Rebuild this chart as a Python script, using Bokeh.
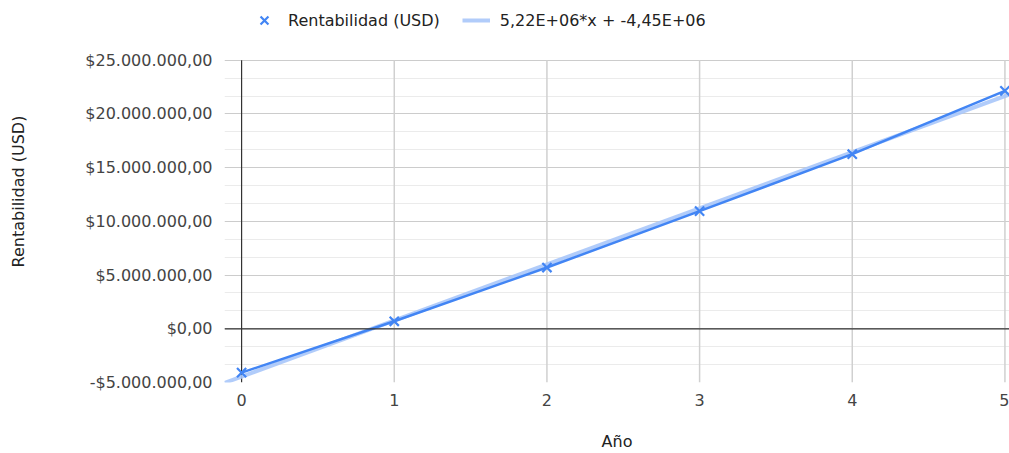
import numpy as np
from bokeh.plotting import figure
from bokeh.models import FixedTicker, Legend, LegendItem, Span, Range1d
from bokeh.embed import file_html
from bokeh.resources import INLINE

# ---- data ----
years = [0, 1, 2, 3, 4, 5]
rentabilidad = [-4.08e6, 0.70e6, 5.70e6, 10.95e6, 16.25e6, 22.15e6]
trend_slope = 5.22e6
trend_intercept = -4.45e6
series_label = "Rentabilidad (USD)"
trend_label = "5,22E+06*x + -4,45E+06"
y_ticks = [-5e6, 0, 5e6, 10e6, 15e6, 20e6, 25e6]
y_tick_labels = ["-$5.000.000,00", "$0,00", "$5.000.000,00", "$10.000.000,00",
                 "$15.000.000,00", "$20.000.000,00", "$25.000.000,00"]
x_ticks = [0, 1, 2, 3, 4, 5]
x_title = "Año"
y_title = "Rentabilidad (USD)"

FONT = "DejaVu Sans"
W, H = 1009, 453
LEFT, BOTTOM = 224, 69          # frame offsets in px
PLOT_TOP = 60                   # px where the data area (25M) starts
x0, x1 = -0.112, 5.03
y0, y1 = -5e6, 25e6
frame_h = H - BOTTOM
per_px = (y1 - y0) / (frame_h - PLOT_TOP)
y_top = y1 + PLOT_TOP * per_px  # frame extends up to hold the legend

p = figure(width=W, height=H, output_backend="svg", toolbar_location=None,
           x_range=Range1d(x0, x1), y_range=Range1d(y0, y_top),
           min_border_left=LEFT, min_border_right=0, min_border_top=0, min_border_bottom=BOTTOM)
p.outline_line_color = None
p.background_fill_color = "white"
p.border_fill_color = "white"

# axes
minor = [v for a in y_ticks[:-1] for v in (a + 5e6 / 3, a + 10e6 / 3)]
p.yaxis.ticker = FixedTicker(ticks=y_ticks, minor_ticks=minor)
p.yaxis.major_label_overrides = {t: l for t, l in zip(y_ticks, y_tick_labels)}
p.xaxis.ticker = FixedTicker(ticks=x_ticks)
for ax in (p.xaxis, p.yaxis):
    ax.axis_line_color = None
    ax.major_tick_line_color = None
    ax.minor_tick_line_color = None
    ax.major_label_text_font = FONT
    ax.major_label_text_font_size = "16px"
    ax.major_label_text_color = "#444444"
    ax.axis_label_text_font = FONT
    ax.axis_label_text_font_size = "16px"
    ax.axis_label_text_font_style = "normal"
    ax.axis_label_text_color = "#222222"
p.yaxis.major_label_standoff = 6
p.xaxis.major_label_standoff = 5
p.xaxis.axis_label = x_title
p.yaxis.axis_label = y_title
p.xaxis.axis_label_standoff = 23
p.yaxis.axis_label_standoff = 54

# grid: horizontal via Grid, vertical drawn only over the data area
p.xgrid.visible = False
p.ygrid.grid_line_color = "#cccccc"
p.ygrid.grid_line_width = 1.2
p.ygrid.minor_grid_line_color = "#ebebeb"
p.ygrid.minor_grid_line_width = 1.2
vx = [t for t in x_ticks if t != 0]
p.segment(x0=vx, y0=[y0] * len(vx), x1=vx, y1=[y1] * len(vx),
          line_color="#d0d0d0", line_width=1.5)

p.add_layout(Span(location=0, dimension="width", line_color="#333333", line_width=1.2))
p.segment(x0=[0], y0=[y0], x1=[0], y1=[y1], line_color="#333333", line_width=1.2)

# trendline
tx = np.array([x0, x1])
ty = trend_slope * tx + trend_intercept
r_trend = p.line(tx, ty, line_color="#a8c7fa", line_width=4, line_alpha=0.9)

# series
r_line = p.line(years, rentabilidad, line_color="#4285f4", line_width=2.5)
r_pts = p.scatter(years, rentabilidad, marker="x", size=13, line_color="#4285f4", line_width=2.2)

GH = 28
legend = Legend(items=[LegendItem(label=series_label, renderers=[r_pts]),
                       LegendItem(label=trend_label, renderers=[r_trend])],
                orientation="horizontal", location=(26, frame_h - 22 - GH // 2),
                label_text_font=FONT, label_text_font_size="16px", label_text_color="#222222",
                glyph_width=GH, glyph_height=GH, label_height=GH, label_standoff=10,
                spacing=22, padding=0, margin=0,
                border_line_color=None, background_fill_alpha=0)
p.add_layout(legend, "center")

open("out.html", "w").write(file_html(p, INLINE))
